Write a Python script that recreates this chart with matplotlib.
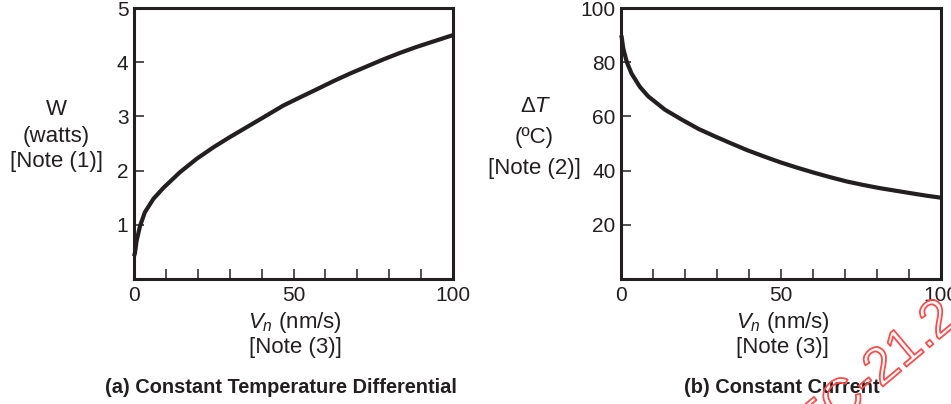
import matplotlib
matplotlib.use("Agg")
import matplotlib.pyplot as plt
import matplotlib.patheffects as pe

plt.rcParams['font.family'] = ['Liberation Sans', 'DejaVu Sans']
plt.rcParams['mathtext.fontset'] = 'custom'
plt.rcParams['mathtext.rm'] = 'Liberation Sans'
plt.rcParams['mathtext.it'] = 'Liberation Sans:italic'

# ---- data ----
v_a = [0, 0.3, 0.8, 1.9, 3.4, 6.1, 9.2, 14.4, 19.7, 24.9, 30.1, 35.3, 40.5, 46.8,
       52, 57.3, 62.5, 67.7, 72.9, 78.1, 83.3, 88.5, 93.7, 100]
w_a = [0.42, 0.48, 0.70, 0.98, 1.23, 1.48, 1.68, 1.97, 2.22, 2.43, 2.62, 2.80, 2.98, 3.20,
       3.35, 3.50, 3.65, 3.79, 3.92, 4.05, 4.17, 4.28, 4.38, 4.50]

v_b = [0, 0.2, 0.7, 1.8, 3.3, 5.9, 8.5, 13.7, 19.0, 24.2, 29.4, 34.5, 39.3, 44.5, 49.7,
       55, 60.1, 65.3, 70.5, 75.7, 81, 86.2, 91.4, 95.7, 100]
t_b = [90.0, 89.4, 85.1, 80.1, 75.8, 70.9, 67.4, 62.5, 58.8, 55.4, 52.6, 50.0, 47.6, 45.3, 43.1,
       41.1, 39.3, 37.6, 36.0, 34.7, 33.5, 32.5, 31.5, 30.7, 30.0]

x_ticks = [0, 10, 20, 30, 40, 50, 60, 70, 80, 90, 100]
x_labels = ['0', '', '', '', '', '50', '', '', '', '', '100']
ya_ticks = [1, 2, 3, 4, 5]
yb_ticks = [20, 40, 60, 80, 100]

ink = '#231f20'
fig = plt.figure(figsize=(9.51, 4.04), dpi=100)
W, H = 951, 404

def ax_at(x0, x1, y0, y1):
    return fig.add_axes([x0 / W, 1 - y1 / H, (x1 - x0) / W, (y1 - y0) / H])

axa = ax_at(134, 453, 8, 279)
axb = ax_at(621, 941, 8, 279)

for ax, xs, ys, yt, ylim in [(axa, v_a, w_a, ya_ticks, 5), (axb, v_b, t_b, yb_ticks, 100)]:
    ax.plot(xs, ys, color=ink, lw=3.0, solid_capstyle='butt', solid_joinstyle='round', clip_on=False)
    ax.set_xlim(0, 100)
    ax.set_ylim(0, ylim)
    ax.set_xticks(x_ticks)
    ax.set_xticklabels(x_labels)
    ax.set_yticks(yt)
    ax.set_yticklabels([str(t) for t in yt])
    ax.tick_params(axis='both', direction='in', length=7.5, width=1.1, color=ink,
                   labelsize=15, labelcolor=ink)
    ax.tick_params(axis='x', pad=5)
    ax.tick_params(axis='y', pad=4)
    for s in ax.spines.values():
        s.set_linewidth(2.2)
        s.set_color(ink)

fs = 16

def txt(x, y, s, **kw):
    fig.text(x / W, 1 - y / H, s, ha='center', va='baseline', color=ink, **kw)

# left y label
txt(56, 115, 'W', fontsize=fs)
txt(56, 142, '(watts)', fontsize=fs)
txt(56, 167, '[Note (1)]', fontsize=fs)
# right y label
txt(536, 112, 'Δ$T$', fontsize=fs)
txt(534, 143, '(ºC)', fontsize=fs)
txt(534.5, 174, '[Note (2)]', fontsize=fs)

# x labels
for cx in (295, 782.5):
    txt(cx, 328, '$V_n$ (nm/s)', fontsize=fs)
    txt(cx, 353, '[Note (3)]', fontsize=fs)

# titles
txt(280.5, 393, '(a) Constant Temperature Differential', fontsize=14.4, fontweight='bold')
txt(782, 393, '(b) Constant Current', fontsize=14.4, fontweight='bold')

# watermark (hollow red outline drawn over the chart)
fig.text(864 / W, 1 - 384 / H, 'PTC-21.2', ha='center', va='center', fontsize=38,
         rotation=40, rotation_mode='anchor', color='none',
         path_effects=[pe.Stroke(linewidth=1.3, foreground='#ff4a4a')])

fig.savefig('out.png', dpi=100)
